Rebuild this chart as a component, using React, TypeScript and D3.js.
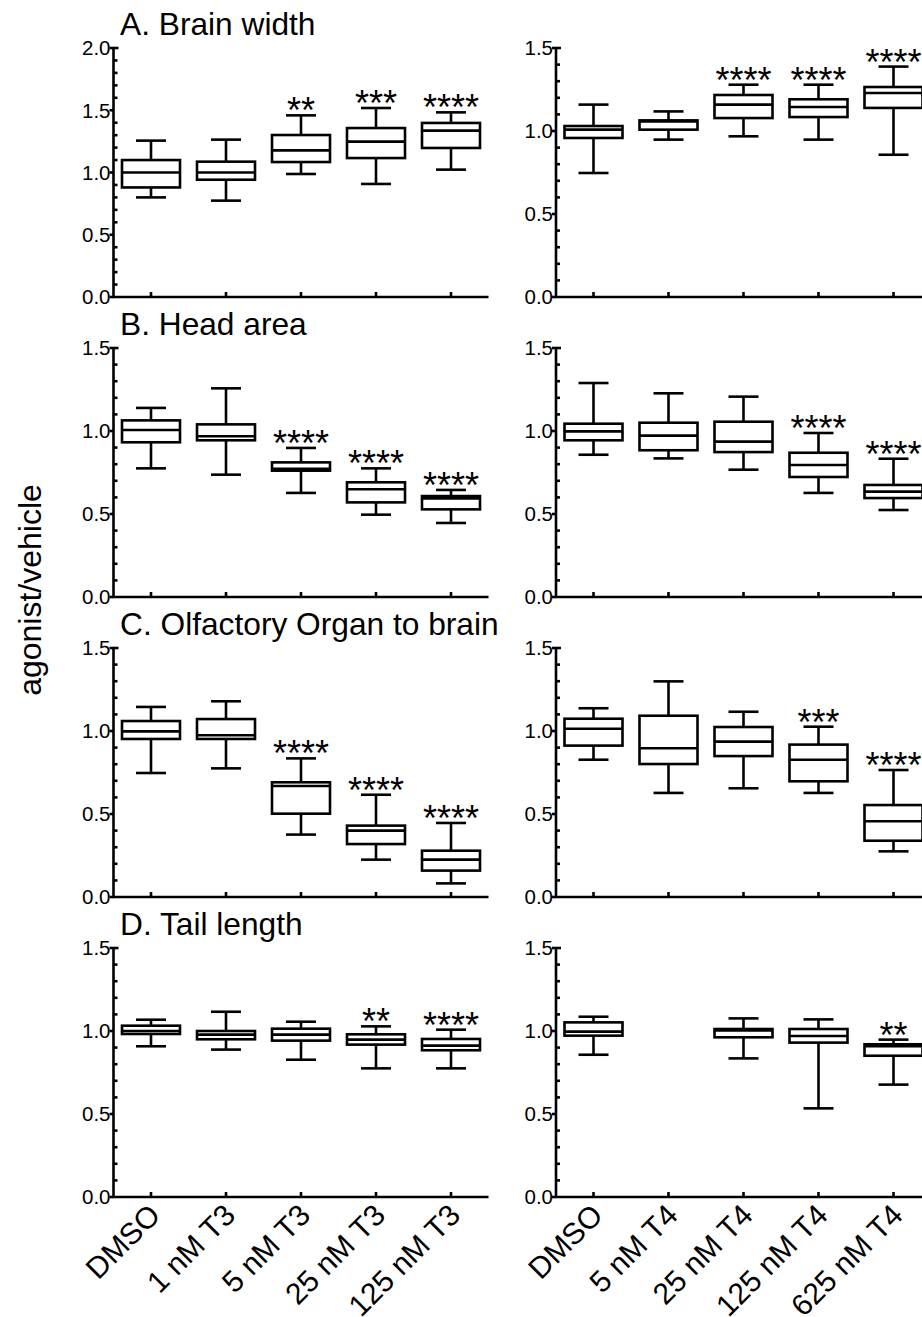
import React from "react";
import * as d3 from "d3";

// ---- data: each entry is [min, Q1, median, Q3, max] ----
const categoriesT3 = ["DMSO", "1 nM T3", "5 nM T3", "25 nM T3", "125 nM T3"];
const categoriesT4 = ["DMSO", "5 nM T4", "25 nM T4", "125 nM T4", "625 nM T4"];
const panelTitles = ["A. Brain width", "B. Head area", "C. Olfactory Organ to brain", "D. Tail length"];
const yMaxLeft = [2.0, 1.5, 1.5, 1.5];
const yMaxRight = [1.5, 1.5, 1.5, 1.5];

const brainWidthT3 = [
  [0.80, 0.88, 1.0, 1.10, 1.256],
  [0.774, 0.942, 1.0, 1.087, 1.264],
  [0.988, 1.084, 1.178, 1.301, 1.459],
  [0.908, 1.116, 1.248, 1.357, 1.518],
  [1.023, 1.197, 1.336, 1.398, 1.483],
];
const brainWidthT4 = [
  [0.747, 0.958, 1.008, 1.030, 1.159],
  [0.948, 1.008, 1.058, 1.064, 1.118],
  [0.968, 1.078, 1.159, 1.217, 1.279],
  [0.948, 1.084, 1.145, 1.191, 1.279],
  [0.857, 1.139, 1.229, 1.265, 1.388],
];
const headAreaT3 = [
  [0.775, 0.932, 1.006, 1.064, 1.139],
  [0.737, 0.944, 0.968, 1.040, 1.257],
  [0.627, 0.761, 0.773, 0.811, 0.898],
  [0.496, 0.570, 0.649, 0.691, 0.775],
  [0.446, 0.528, 0.594, 0.608, 0.645],
];
const headAreaT4 = [
  [0.857, 0.944, 0.998, 1.044, 1.289],
  [0.835, 0.884, 0.972, 1.050, 1.227],
  [0.767, 0.873, 0.936, 1.056, 1.207],
  [0.627, 0.723, 0.795, 0.869, 0.988],
  [0.524, 0.596, 0.635, 0.675, 0.833],
];
const olfactoryT3 = [
  [0.747, 0.952, 0.998, 1.060, 1.145],
  [0.775, 0.952, 0.974, 1.072, 1.179],
  [0.376, 0.502, 0.669, 0.691, 0.835],
  [0.225, 0.319, 0.400, 0.430, 0.616],
  [0.082, 0.159, 0.225, 0.279, 0.446],
];
const olfactoryT4 = [
  [0.827, 0.912, 1.014, 1.074, 1.137],
  [0.627, 0.801, 0.896, 1.092, 1.299],
  [0.655, 0.849, 0.936, 1.024, 1.116],
  [0.627, 0.697, 0.827, 0.918, 1.026],
  [0.275, 0.339, 0.456, 0.554, 0.765],
];
const tailLengthT3 = [
  [0.908, 0.982, 1.0, 1.032, 1.068],
  [0.888, 0.950, 0.978, 1.0, 1.116],
  [0.827, 0.942, 0.978, 1.014, 1.056],
  [0.775, 0.918, 0.948, 0.980, 1.028],
  [0.775, 0.884, 0.912, 0.952, 1.008],
];
const tailLengthT4 = [
  [0.857, 0.972, 0.996, 1.052, 1.086],
  null,
  [0.835, 0.962, 1.004, 1.012, 1.076],
  [0.534, 0.930, 0.970, 1.012, 1.070],
  [0.677, 0.851, 0.908, 0.920, 0.948],
];

const sigBrainT3 = ["", "", "**", "***", "****"];
const sigBrainT4 = ["", "", "****", "****", "****"];
const sigHeadT3 = ["", "", "****", "****", "****"];
const sigHeadT4 = ["", "", "", "****", "****"];
const sigOlfT3 = ["", "", "****", "****", "****"];
const sigOlfT4 = ["", "", "", "***", "****"];
const sigTailT3 = ["", "", "", "**", "****"];
const sigTailT4 = ["", "", "", "", "**"];

const leftData = [brainWidthT3, headAreaT3, olfactoryT3, tailLengthT3];
const rightData = [brainWidthT4, headAreaT4, olfactoryT4, tailLengthT4];
const leftSig = [sigBrainT3, sigHeadT3, sigOlfT3, sigTailT3];
const rightSig = [sigBrainT4, sigHeadT4, sigOlfT4, sigTailT4];

const FONT = "'Liberation Sans', Arial, Helvetica, sans-serif";
const SW = 2.6;

type PanelProps = {
  x0: number;
  yTop: number;
  yBottom: number;
  yMax: number;
  cats: string[];
  data: (number[] | null)[];
  sig: string[];
  showXLabels: boolean;
};

function Panel({ x0, yTop, yBottom, yMax, cats, data, sig, showXLabels }: PanelProps) {
  const width = 375;
  const y = d3.scaleLinear().domain([0, yMax]).range([yBottom, yTop]);
  const x = d3.scaleBand().domain(cats).range([x0, x0 + width]);
  const bw = x.bandwidth();
  const boxW = 58;
  const capW = 30;
  const all = d3.range(0, Math.round(yMax * 10) + 1).map((i) => i / 10);
  const major = all.filter((v) => Math.abs(v * 2 - Math.round(v * 2)) < 1e-6);
  const minor = all.filter((v) => Math.abs(v * 2 - Math.round(v * 2)) >= 1e-6);
  const fmt = d3.format(".1f");
  return (
    <g>
      {/* axes */}
      <line x1={x0} x2={x0} y1={yTop - 1} y2={yBottom + 1} stroke="#000" strokeWidth={SW} />
      <line x1={x0 - 1} x2={x0 + width} y1={yBottom} y2={yBottom} stroke="#000" strokeWidth={SW} />
      {major.map((v) => (
        <g key={"M" + v}>
          <line x1={x0 - 4} x2={v === yMax ? x0 + 5 : x0} y1={y(v)} y2={y(v)} stroke="#000" strokeWidth={SW} />
          <text x={x0 - 3} y={y(v)} dy="0.36em" textAnchor="end" fontSize={20.5} fontFamily={FONT} fill="#000">
            {fmt(v)}
          </text>
        </g>
      ))}
      {minor.map((v) => (
        <line key={"m" + v} x1={x0} x2={x0 + 4} y1={y(v)} y2={y(v)} stroke="#000" strokeWidth={SW} />
      ))}
      {cats.map((c) => {
        const cx = (x(c) as number) + bw / 2;
        return (
          <line key={"xt" + c} x1={cx} x2={cx} y1={yBottom} y2={yBottom - 5} stroke="#000" strokeWidth={SW} />
        );
      })}
      {/* boxes */}
      {cats.map((c, i) => {
        const d = data[i];
        if (!d) return null;
        const [mn, q1, md, q3, mx] = d;
        const cx = (x(c) as number) + bw / 2;
        return (
          <g key={"b" + c} stroke="#000" strokeWidth={SW} fill="none">
            <line x1={cx} x2={cx} y1={y(mn)} y2={y(q1)} />
            <line x1={cx} x2={cx} y1={y(q3)} y2={y(mx)} />
            <line x1={cx - capW / 2} x2={cx + capW / 2} y1={y(mn)} y2={y(mn)} />
            <line x1={cx - capW / 2} x2={cx + capW / 2} y1={y(mx)} y2={y(mx)} />
            <rect x={cx - boxW / 2} width={boxW} y={y(q3)} height={y(q1) - y(q3)} fill="#fff" />
            <line x1={cx - boxW / 2} x2={cx + boxW / 2} y1={y(md)} y2={y(md)} />
            {sig[i] ? (
              <text
                x={cx}
                y={y(mx) + 8}
                textAnchor="middle"
                fontSize={36}
                fontFamily={FONT}
                fill="#000"
                stroke="none"
              >
                {sig[i]}
              </text>
            ) : null}
          </g>
        );
      })}
      {showXLabels &&
        cats.map((c) => {
          const cx = (x(c) as number) + bw / 2;
          return (
            <text
              key={"xl" + c}
              transform={`translate(${cx + 11},${yBottom + 20}) rotate(-45)`}
              textAnchor="end"
              fontSize={30}
              fontFamily={FONT}
              fill="#000"
            >
              {c}
            </text>
          );
        })}
    </g>
  );
}

export default function App() {
  const rowTop = (r: number) => 48 + 300 * r;
  const rowBottom = (r: number) => 297 + 300 * r;
  return (
    <svg
      width={922}
      height={1317}
      viewBox="0 0 922 1317"
      style={{ position: "absolute", left: 0, top: 0, background: "#fff" }}
    >
      <rect x={0} y={0} width={922} height={1317} fill="#fff" />
      <text
        transform="translate(41,590) rotate(-90)"
        textAnchor="middle"
        fontSize={32}
        fontFamily={FONT}
        fill="#000"
      >
        agonist/vehicle
      </text>
      {panelTitles.map((t, r) => (
        <text key={t} x={120} y={rowTop(r) - 13} fontSize={31.7} fontFamily={FONT} fill="#000">
          {t}
        </text>
      ))}
      {panelTitles.map((t, r) => (
        <g key={"row" + r}>
          <Panel
            x0={113.5}
            yTop={rowTop(r)}
            yBottom={rowBottom(r)}
            yMax={yMaxLeft[r]}
            cats={categoriesT3}
            data={leftData[r]}
            sig={leftSig[r]}
            showXLabels={r === 3}
          />
          <Panel
            x0={556}
            yTop={rowTop(r)}
            yBottom={rowBottom(r)}
            yMax={yMaxRight[r]}
            cats={categoriesT4}
            data={rightData[r]}
            sig={rightSig[r]}
            showXLabels={r === 3}
          />
        </g>
      ))}
    </svg>
  );
}
